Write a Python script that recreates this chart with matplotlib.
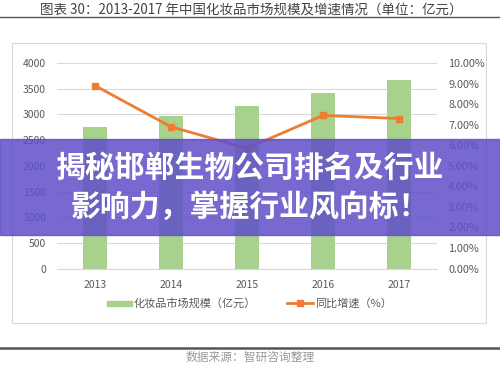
import matplotlib.pyplot as plt
from matplotlib.patches import Rectangle
from matplotlib.lines import Line2D
from matplotlib.ticker import FuncFormatter

plt.rcParams['font.family'] = ['Noto Sans CJK SC', 'DejaVu Sans']

years = ['2013', '2014', '2015', '2016', '2017']
market_size = [2760, 2970, 3160, 3410, 3670]   # 亿元
growth = [8.90, 6.90, 5.85, 7.45, 7.30]         # %

fig = plt.figure(figsize=(5, 3.75), dpi=100)

# chart frame
fig.patches.append(Rectangle((12/500, 1-323/375), 474/500, 280/375, transform=fig.transFigure,
                             fill=False, ec='#d9d9d9', lw=0.8))
# title and rules
fig.text(251/500, 1-11/375, '图表 30：2013-2017 年中国化妆品市场规模及增速情况（单位：亿元）',
         ha='center', va='center', fontsize=9.7, color='#444444')
fig.add_artist(Line2D([0, 1], [1-17/375, 1-17/375], transform=fig.transFigure, color='#555555', lw=1))
fig.add_artist(Line2D([0, 1], [1-348/375, 1-348/375], transform=fig.transFigure, color='#555555', lw=1.8))
fig.text(0.5, 1-357/375, '数据来源：智研咨询整理', ha='center', va='center', fontsize=8.5, color='#999999')

ax = fig.add_axes([57/500, 1-268.6/375, 380/500, 205.6/375])
x = range(len(years))
ax.bar(x, market_size, width=0.32, color='#a9d18e', zorder=2)
ax.set_xlim(-0.5, 4.5)
ax.set_ylim(0, 4000)
ax.set_yticks(range(0, 4001, 500))
ax.set_xticks(list(x))
ax.set_xticklabels(years)
ax.grid(axis='y', color='#d9d9d9', lw=0.8, zorder=0)
for s in ['left', 'right', 'top']:
    ax.spines[s].set_visible(False)
ax.spines['bottom'].set_color('#d9d9d9')
ax.tick_params(length=0, labelsize=7.5, colors='#595959', pad=8)
ax.tick_params(axis='y', pad=8)

ax2 = ax.twinx()
ax2.plot(list(x), growth, color='#ed7d31', lw=2, marker='s', markersize=5, zorder=3)
ax2.set_ylim(0, 10)
ax2.set_yticks(range(0, 11))
ax2.yaxis.set_major_formatter(FuncFormatter(lambda v, p: f'{v:.2f}%'))
for s in ['left', 'right', 'top', 'bottom']:
    ax2.spines[s].set_visible(False)
ax2.tick_params(length=0, labelsize=7.8, colors='#595959', pad=8)

# legend
fig.patches.append(Rectangle((107/500, 1-306/375), 25/500, 5/375, transform=fig.transFigure,
                             color='#a9d18e'))
fig.text(134/500, 1-303/375, '化妆品市场规模（亿元）', va='center', fontsize=8, color='#595959')
fig.add_artist(Line2D([287/500, 313/500], [1-303/375, 1-303/375], transform=fig.transFigure,
                      color='#ed7d31', lw=2))
fig.add_artist(Line2D([300/500], [1-303/375], transform=fig.transFigure,
                      color='#ed7d31', marker='s', markersize=4))
fig.text(315/500, 1-303/375, '同比增速（%）', va='center', fontsize=8, color='#595959')

# overlay banner
fig.patches.append(Rectangle((0, 1-235/375), 1, 96/375, transform=fig.transFigure,
                             color='#5f4fc8', alpha=0.85, zorder=10))
fig.text(0.5, 1-168/375, '揭秘邯郸生物公司排名及行业', ha='center', va='center',
         fontsize=21.5, fontweight='black', color='white', zorder=11)
fig.text(0.5, 1-207/375, '影响力，掌握行业风向标！', ha='center', va='center',
         fontsize=21.5, fontweight='black', color='white', zorder=11)

fig.savefig('out.png', dpi=100)
